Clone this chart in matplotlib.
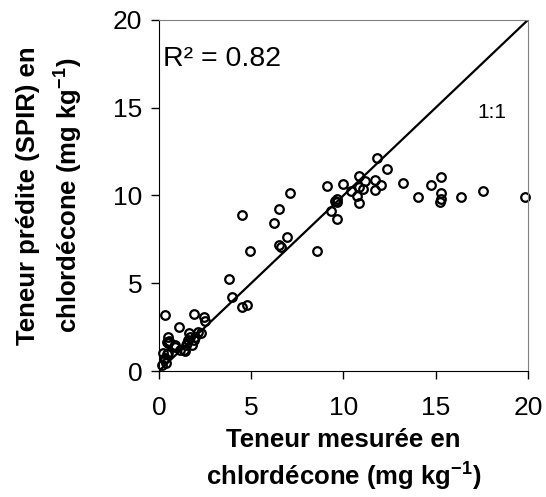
"""Teneur mesurée vs prédite (SPIR) en chlordécone"""
import matplotlib
matplotlib.use("Agg")
import matplotlib.pyplot as plt

plt.rcParams['font.family'] = ['Liberation Sans', 'DejaVu Sans']
plt.rcParams['mathtext.fontset'] = 'custom'
plt.rcParams['mathtext.rm'] = 'Liberation Sans:bold'
plt.rcParams['mathtext.default'] = 'rm'

# Données
mesuree = [0.18, 0.40, 0.29, 0.33, 0.50, 0.22, 0.43, 1.12, 1.34, 1.41,
           0.87, 0.87, 1.48, 1.77, 1.52, 0.51, 0.54, 0.43, 1.91, 1.59,
           0.51, 1.66, 1.95, 1.63, 2.10, 2.28, 1.08, 2.49, 2.42, 1.88,
           0.33, 3.96, 4.50, 4.79, 3.81, 4.93, 6.52, 6.60, 6.92, 8.55,
           6.23, 6.49, 4.50, 7.10, 9.12, 9.30, 9.63, 9.67, 9.55, 9.63,
           9.95, 10.42, 10.86, 10.86, 10.75, 10.86, 11.18, 11.07, 11.72, 11.69,
           12.05, 11.80, 12.34, 13.24, 14.05, 14.72, 15.30, 15.27, 15.30, 15.23,
           16.39, 17.58, 19.82]
predite = [0.34, 0.44, 0.67, 0.72, 1.00, 1.04, 0.97, 1.20, 1.20, 1.16,
           1.38, 1.46, 1.46, 1.46, 1.58, 1.58, 1.73, 1.65, 1.77, 1.77,
           1.96, 1.96, 1.96, 2.18, 2.22, 2.18, 2.52, 2.87, 3.10, 3.25,
           3.21, 4.20, 3.66, 3.74, 5.26, 6.86, 7.20, 7.05, 7.62, 6.82,
           8.45, 9.25, 8.91, 10.16, 10.54, 9.13, 9.78, 9.63, 9.70, 8.64,
           10.65, 10.24, 11.11, 10.50, 9.97, 9.59, 10.81, 10.35, 10.88, 10.31,
           10.58, 12.14, 11.53, 10.70, 9.93, 10.58, 11.04, 10.12, 9.78, 9.63,
           9.93, 10.27, 9.93]
ligne = [0, 20]
ticks = [0, 5, 10, 15, 20]

fig = plt.figure(figsize=(5.46, 4.97), dpi=100)
ax = fig.add_axes([0.291, 0.2535, 0.676, 0.7065])

ax.plot(ligne, ligne, color='black', linewidth=1.6)
ax.plot(mesuree, predite, 'o', markerfacecolor='none', markeredgecolor='black',
        markersize=6.2, markeredgewidth=1.6, clip_on=False)

ax.set_xlim(0, 20)
ax.set_ylim(0, 20)
ax.set_xticks(ticks)
ax.set_yticks(ticks)
ax.tick_params(direction='out', length=6, width=1, labelsize=19, pad=6)
ax.tick_params(axis='x', pad=12)
for s in ['top', 'right']:
    ax.spines[s].set_color('#808080')

ax.text(0.25, 17.8, 'R² = 0.82', fontsize=20.5, va='center')
ax.text(17.25, 14.7, '1:1', fontsize=15, va='center')

ax.set_xlabel('Teneur mesurée en\nchlordécone (mg kg$^{-1}$)',
              fontsize=18.5, fontweight='bold', linespacing=1.35, labelpad=6)
ax.set_ylabel('Teneur prédite (SPIR) en\nchlordécone (mg kg$^{-1}$)',
              fontsize=18.5, fontweight='bold', linespacing=1.5, labelpad=20)

fig.savefig('out.png', dpi=100)
